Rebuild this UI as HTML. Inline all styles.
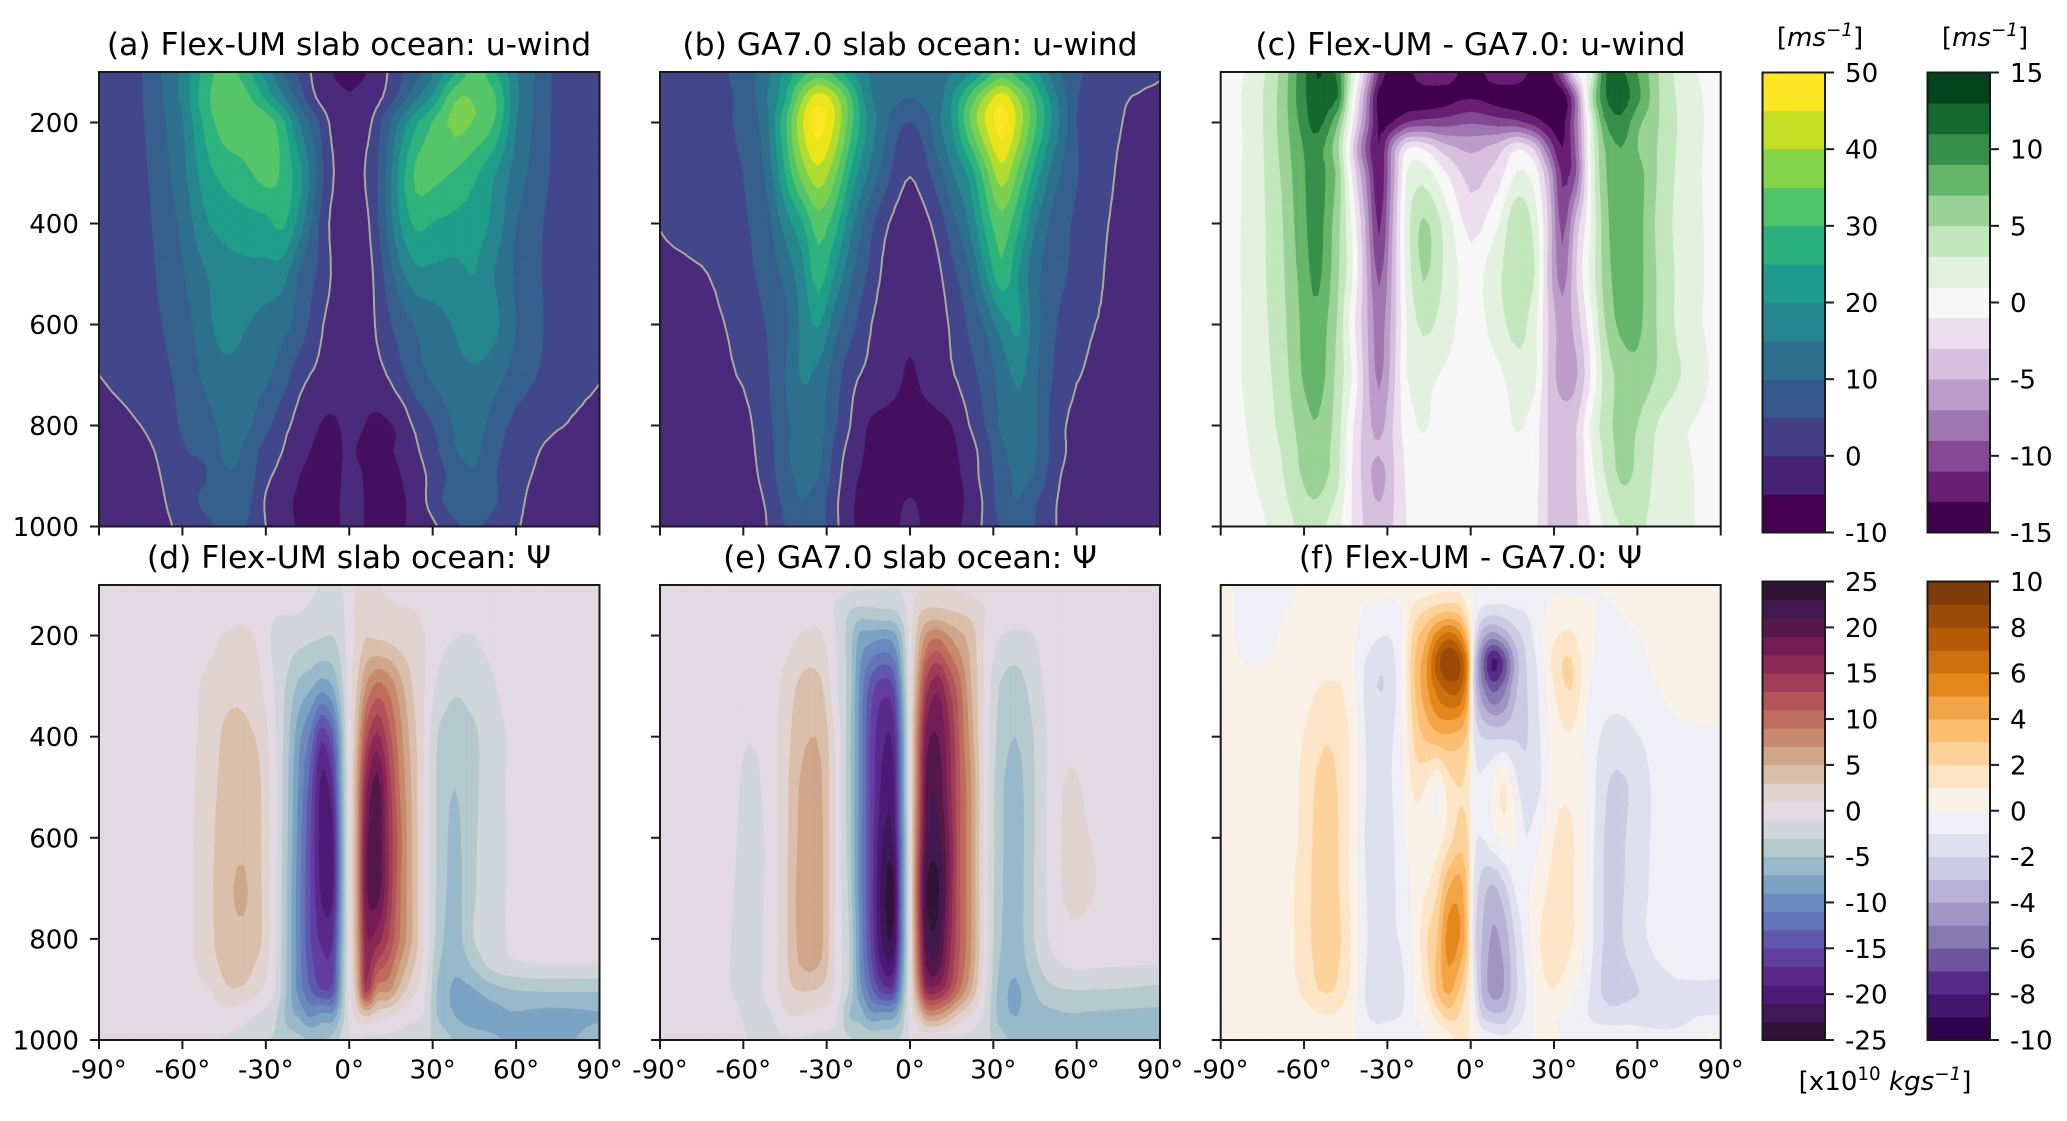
<!DOCTYPE html>
<html lang="en">
<head>
<meta charset="utf-8">
<title>Flex-UM and GA7.0 slab ocean zonal means</title>
<style>
html,body{margin:0;padding:0;background:#fff;}
svg{display:block;}
text{font-family:"DejaVu Sans","Liberation Sans",sans-serif;fill:#000;}
.t{font-size:31.4px;text-anchor:middle;}
.l{font-size:26.1px;}
</style>
</head>
<body>
<svg id="fig" xmlns="http://www.w3.org/2000/svg" width="2067" height="1121" viewBox="0 0 2067 1121">
<rect x="0" y="0" width="2067" height="1121" fill="#fff"/>
<g id="panels"></g>
<g id="bars"></g>
<text class="t" x="349" y="55">(a) Flex-UM slab ocean: u-wind</text>
<text class="t" x="910" y="55">(b) GA7.0 slab ocean: u-wind</text>
<text class="t" x="1470.5" y="55">(c) Flex-UM - GA7.0: u-wind</text>
<text class="t" x="349" y="568">(d) Flex-UM slab ocean: Ψ</text>
<text class="t" x="910" y="568">(e) GA7.0 slab ocean: Ψ</text>
<text class="t" x="1470.5" y="568">(f) Flex-UM - GA7.0: Ψ</text>
<text class="l" x="1820" y="46" text-anchor="middle">[<tspan font-style="italic">ms</tspan><tspan font-style="italic" font-size="18.3" dy="-10">−1</tspan><tspan dy="10">]</tspan></text>
<text class="l" x="1985" y="46" text-anchor="middle">[<tspan font-style="italic">ms</tspan><tspan font-style="italic" font-size="18.3" dy="-10">−1</tspan><tspan dy="10">]</tspan></text>
<text class="l" x="1885" y="1090" text-anchor="middle">[x10<tspan font-size="18.3" dy="-10">10</tspan><tspan dy="10"> </tspan><tspan font-style="italic">kgs</tspan><tspan font-style="italic" font-size="18.3" dy="-10">−1</tspan><tspan dy="10">]</tspan></text>
</svg>
<script>
// ---------- axes data ----------
const yTicks = [200,400,600,800,1000];
const xTicks = [-90,-60,-30,0,30,60,90];

// ---------- band levels and colours ----------
const windLevels = [-10,-5,0,5,10,15,20,25,30,35,40,45,50,55];
const windColors = ['#440f5f','#4a2b7b','#41478a','#355f8d','#2d708e','#26868e','#1f9e89','#2eb37c','#54c568','#7ad151','#b0dd2f','#ebe51a','#fde725'];
const windDiffLevels = [-15,-13,-11,-9,-7,-5,-3,-1,1,3,5,7,9,11,13,15];
const windDiffColors = ['#40004b','#671e73','#854894','#9f77b0','#bc9dca','#d7c0dd','#ecdeec','#f7f7f7','#e2f2df','#c3e7bd','#9bd397','#65b66a','#369049','#13692f','#00441b'];
const psiLevels = [-25,-23,-21,-19,-17,-15,-13,-11,-9,-7,-5,-3,-1,1,3,5,7,9,11,13,15,17,19,21,23,25];
const psiColors = ['#2f1436','#3f185a','#4d1a76','#5a2a8a','#623ea0','#5f58ad','#6374b9','#6a8abd','#7ba3c3','#98b9ca','#b4cacd','#d1d6da','#e2d9e2','#e1d3d0','#dabfab','#d0a68a','#c88a6c','#bf6b5d','#b25459','#a13d56','#8a2a55','#741e55','#561848','#401a4e','#2f1436'];
const psiDiffLevels = [-10,-9,-8,-7,-6,-5,-4,-3,-2,-1,0,1,2,3,4,5,6,7,8,9,10];
const psiDiffColors = ['#2d004b','#42156b','#562b8a','#6e539d','#8579b0','#a096c4','#b8b3d6','#cccbe3','#dfe0ee','#efeff5','#f9f1e6','#fde6c8','#fed39b','#fdbe70','#f2a446','#e4881d','#cd700e','#b55a07','#9b4a07','#7f3b08'];

// ---------- colourbars ----------
const barWindLevels = [-10,-5,0,5,10,15,20,25,30,35,40,45,50];
const barWindColors = ['#440154','#472374','#433d84','#38598c','#2d708e','#25858e','#1e9b8a','#2ab07f','#51c56a','#85d54a','#c2df23','#fde725'];
const barWindTicks = [-10,0,10,20,30,40,50];
const barWindDiffTicks = [-15,-10,-5,0,5,10,15];
const barPsiTicks = [-25,-20,-15,-10,-5,0,5,10,15,20,25];
const barPsiDiffTicks = [-10,-8,-6,-4,-2,0,2,4,6,8,10];

// ---------- panel (a) ----------
const latsA = [-90,-75,-60,-52,-45,-38,-30,-24,-18,-12,-8,-4,0,4,8,12,18,24,30,38,45,52,60,75,90];
const presA = [100,150,200,300,400,500,600,700,800,850,900,950,1000];
const uFlex = [
[2,4.5,16,26.5,32,28,18.5,10,4,-1.5,-4,-6,-7,-6,-4,-1.3,3.6,8,14.5,24.5,32,26,15.5,3.5,2],
[2,4.5,16,28,33,32,24,16,8,0,-2.5,-3.5,-4.5,-3.5,-2.5,0,6.5,14,21,34,34.5,31,16,3.5,2],
[2,4.3,14.5,26,32.5,33.5,33,26.5,15,7,0.8,-2.5,-3.5,-2.5,0,6,15.5,24,30.5,36.5,34.5,30,15,3.5,2],
[2,3.7,13,22.5,26.5,28.5,32,29,21.5,10.5,2.8,-1.2,-3,-1.2,2.5,8,21,31,31.5,29.5,26,20.5,12.5,3.5,2],
[1.5,3.3,11,19,22,23,23.5,26,18,7,0.8,-2.5,-3.5,-2.5,1,8,19.5,26,24.7,23.5,22.5,18.5,10,3,1.5],
[1.5,3,9.5,14.5,17.5,18.5,18.5,17,9.5,5,1.5,-2.5,-3.5,-2.5,-0.5,4.5,13,18.5,18.7,18.5,20,15,9,3,1.5],
[1,2.8,7.5,13,17,15.5,13,11.5,8,2.5,-1,-3,-3.5,-3,-1,2.7,7,10.5,12.5,15.5,19,16.5,10,3,1],
[0,2.5,6,11,13.5,13,11,7.5,2,-0.8,-2,-3,-3.5,-3,-2,-0.8,3.3,8,11,13,14,12,7.7,2.5,0.2],
[-1.5,0,5.5,8,11,11.5,6.5,2,-2,-4.5,-5.7,-5.2,-3.7,-4.5,-5.8,-5.8,-4,1.2,5,10.5,12,8,3.5,0.3,-1],
[-2,-1.8,4.5,6,10.7,9.5,3,0,-3.5,-5.5,-6,-5.5,-4.5,-5.5,-6,-5.7,-4.3,-0.7,3.2,9.7,11,6.5,2,-1.1,-1.5],
[-2.5,-2.5,3,4.5,9.3,8.6,1.3,-1.5,-5,-6.2,-6.2,-5.5,-4,-4.7,-6.5,-6.5,-5.3,-2,1.5,7,9.5,5.5,1.2,-1.5,-2],
[-3,-3,2.3,6,8.5,7.5,-0.5,-3.5,-5.7,-6.3,-6,-5.2,-4,-4.5,-6.3,-6.5,-5.8,-3.3,2.3,8,8.7,6,0.8,-2.2,-2.2],
[-3,-3,1,3.5,6,5.5,0,-3,-5.5,-6.5,-6,-5.3,-4,-4.6,-6,-6.2,-6,-3,-1,4,5.7,3,0.3,-2.5,-2.5]
];

// ---------- panel (b) ----------
const latsB = [-90,-75,-60,-52,-45,-39,-33,-27,-21,-15,-10,-5,0,5,10,15,21,27,33,39,45,52,60,75,90];
const presB = [100,150,200,300,400,500,600,700,800,850,900,950,1000];
const uGA = [
[2,3,6.7,13,21,27.5,32,28,20.5,15,13.5,13,12.8,13,13.5,14.8,18.5,25.5,32,27,21.5,12,5.7,2.5,0.3],
[2,3,6,14,24,38.5,47.5,42,30,16.5,13.5,11.5,10,11.5,12.5,19.5,30,40.5,47.5,39.5,29,16.5,5.3,0.7,-0.8],
[2,3,6,12.7,28.5,44,52,44.5,31,19,12.5,6.5,5,7,14,20,33.5,45,52,43,31,18,5,0.3,-2],
[2,2.8,5,10.5,25,37,43.5,36,23.5,14.5,8.7,3,0.3,3,8,14.5,21,32.5,43,34,23,12,5.3,-0.4,-2],
[0.2,2.8,4.5,7.5,17,24,32.5,27,16,7.5,1.8,-1.5,-3,-1.5,2,8,15,26,33,26,15.5,8,4,-1,-2],
[-1,-0.5,3.5,6.5,11.5,18,27.5,19.5,10.5,4.5,-0.5,-2.5,-3.5,-2.5,-1,3.5,9,19,28.5,20,11.5,7,3.5,-1.5,-2.5],
[-2,-1.5,1.5,5,8.5,16,20.5,12,6.5,0.8,-2,-3,-3.7,-3,-2,0.8,5.5,10.5,17.5,21,12,5.5,1.5,-1.5,-2.5],
[-2.5,-2,0.5,4,10,15.5,13.5,7.5,1.5,-1,-2.3,-3.8,-5.8,-3.8,-2,-0.5,3,7,12,16,11,4.5,0.3,-2,-2.7],
[-3,-2.5,-1.5,3,8.7,12.5,12,5.7,-0.5,-5.2,-6.2,-6.7,-7,-6.7,-6.2,-5,-0.3,5,11,13.5,11,2.5,-1.5,-2.5,-3],
[-3,-2.8,-1.5,2,9,12,11.5,3.5,-2.2,-5.7,-6.7,-7.5,-8,-7.5,-6.7,-6,-2.5,2.5,9,12,10.5,3,-2,-2.8,-3],
[-3.2,-3,-2,1.5,8,11,10.3,2.5,-3.7,-6,-7,-8,-8.5,-8,-7,-6.3,-3.5,2.3,7.5,11,9.5,1.5,-2.5,-3,-3],
[-3.2,-3,-2.5,0.3,6.5,10,7.5,1.2,-4.5,-6.5,-7,-6.5,-4.4,-6.5,-7,-6.5,-4.3,1,7.5,10,5.5,0.4,-2.5,-3,-3],
[-3.2,-3,-2.8,-0.3,5,7.5,7.5,1.3,-4.5,-6.5,-6.8,-5.8,-3,-5.8,-6.8,-6.5,-3.5,1,5.5,8,5,0.3,-2.5,-3,-3.2]
];

// ---------- panel (c) ----------
const latsC = [-90,-78,-68,-60,-55,-48,-43,-38,-33,-28,-23,-17,-10,0,10,17,23,28,33,38,43,48,54,60,68,78,90];
const presC = [100,150,200,250,300,400,500,600,700,800,850,900,1000];
const uDiff = [
[0,1.7,5.5,10.5,13.2,10.5,3,-3.5,-11.2,-14,-14,-11,-11.5,-14,-11.5,-11.5,-14,-14,-9,-1,1.5,10.5,11.3,9,4.8,1.5,0.5],
[0,1.95,5.7,10.5,12.3,11,1.6,-6,-14,-14.5,-14.5,-14.5,-14,-13.2,-14,-14.5,-14.5,-14.5,-14.5,-8,3.5,10.5,12,9.6,4.9,1.9,0.3],
[0,1.9,5.7,9.9,11.8,7.3,0,-7,-13.5,-13,-11,-10.2,-10,-9.2,-10,-10.5,-12,-13.5,-13.8,-8,1,8.5,10.5,7.5,4.9,2,0.3],
[0,1.8,5.5,9.1,9.8,5.5,-2,-9,-13,-6.5,-1.3,-1.3,-4,-5.5,-4,-1.2,-3.5,-9,-13,-8.5,0.8,6.8,9,7,4.7,1.9,0.3],
[0,1.9,5.2,8.8,9.8,6.5,-0.9,-7,-12.5,-6,1,2,-0.5,-3.8,-2,1.2,0,-5,-11.5,-9,0.6,6.5,8.5,7.8,4.6,1.8,0.3],
[0,1.9,4.8,8.5,9.8,5.7,1,-5,-11.5,-5,2,5.3,2.6,-1.8,0.9,4.8,2.1,-3.3,-9.8,-4.2,0.6,5.9,8.5,7.8,4.2,1.8,0.4],
[0,1.9,4.6,7.9,9.5,5.4,1.5,-4.3,-9.5,-4.5,1.7,5.2,2.9,0,2.7,4,3,-3.7,-8,-3.1,1.4,5.6,8.2,7.7,4.5,1.9,0.4],
[0,1.8,4.3,7.5,8.3,4.8,0.1,-4.2,-8,-4.2,1,3.5,2.1,0,2.1,3.8,1.6,-3,-6,-4.1,0,4.7,7.5,7.5,4.5,1.8,0.4],
[0,1.75,3.9,7.3,8,4.4,1.2,-3.8,-7.5,-3.8,1,1.5,0.8,0,0.6,2,1.5,-3.3,-6,-5.3,-1.3,3.5,5.6,6.3,4.6,2.5,0.4],
[0,1.4,3.5,6,6.8,4,-0.4,-3.8,-5.8,-3,0,1.2,0,0,0,1.2,0,-3.2,-4,-3.2,1,3.8,5.7,5,2.7,1.1,0.3],
[0,1.2,3.1,5.6,6.4,3.7,-0.7,-3.8,-4.8,-3.1,-0.4,0.5,0,0,0,0.5,-0.1,-3.2,-4,-3.1,0.6,3.3,5.5,4.7,2.4,1.1,0.3],
[0,1,2.8,5.3,6,3.5,-0.9,-3.8,-6,-3.3,-0.7,0,0,0,0,0,-0.3,-3.2,-4,-3,0.2,2.8,5.3,4.5,2.2,1.2,0.3],
[0,0.3,2,3.5,3.6,1.5,-1,-3.3,-4,-3,-1,0.5,0,0,0,0.5,-0.5,-3.2,-4,-3.2,-1,1.3,3,3.4,2,1.3,0]
];

// ---------- panel (d) ----------
const latsD = [-90,-60,-50,-44,-38,-32,-27,-22,-18,-14,-10,-6,-3,0,3,6,10,14,18,22,27,32,38,44,50,58,70,80,90];
const presD = [100,150,200,300,400,500,600,700,800,850,900,950,1000];
const psiFlex = [
[0,0,0,0.3,0.3,0,-0.2,-0.1,-0.3,-0.6,-1.1,-1.5,-1.2,0,1.2,1.5,1.2,0.5,0.2,0,0,0,0,0,0,0,0,0,0],
[0,0,0,0.3,0.6,0.3,-0.7,-0.8,-0.9,-1.3,-2,-2.2,-1.5,0,1.5,1.8,1.8,1.5,1.2,1.1,0.6,0,-0.2,0,0,0,0,0,0],
[0,0.1,0.5,1.2,1.3,0.6,-1.5,-1.9,-2.2,-2.5,-2.8,-3,-2,0,1.5,2.8,2.5,2.3,1.9,1.9,1,-0.3,-0.9,-1.1,-0.5,0,0,0,0],
[0,0.2,1.5,2.3,2.4,1.2,-1,-3.5,-5.5,-6.5,-8,-7,-4,0,3.2,7,9.5,8.5,6,3.3,1,-1.5,-2.7,-2.2,-1.5,-0.2,0,0,0],
[0,0.2,1.8,3.5,3.5,2.5,-0.5,-4.5,-8.5,-11.5,-16.5,-13.5,-7,0,5,12,15.5,12,8,4.5,0.8,-3.2,-4,-3.5,-2.2,-0.8,0,0,0],
[0,0.2,2.2,3.9,4.2,3.1,-0.2,-5,-9.5,-14,-19.7,-17.5,-8,0,6.5,16,20,14.5,9,5.2,0.7,-3.5,-5,-3.6,-2.2,-0.7,0,0,0],
[0,0.2,2.5,4,4.5,3.2,-0.2,-5.2,-10,-15,-20,-19.5,-9,0,7,18,20.5,15,10,5.5,0.7,-3.5,-5.5,-3.5,-2.2,-0.8,0,0,0],
[0,0.2,2.6,4.5,5.3,3.3,-0.3,-5.5,-10.5,-15,-19.5,-19.5,-9,0,7,18.5,20.2,15,9.5,5.5,0.7,-3.6,-5.7,-3.5,-2,-0.8,0,0,0],
[0,0.2,2.5,4.2,4.6,3.3,-0.3,-5.5,-10.5,-15,-17.5,-17.2,-8,0,6.5,16.5,16,13,9,5.5,0.7,-4,-6,-3.2,-2,-0.8,-0.05,-0.1,-0.2],
[0,0.1,2.2,3.6,3.8,2.4,-0.5,-5.6,-10.3,-14.2,-16.3,-16,-7.5,0,5.8,15.5,12.5,10.5,7,4,0.2,-4.7,-6.6,-4.8,-2.6,-1.3,-1,-1,-1],
[0,0,1,2.8,2.7,1.2,-0.7,-5.8,-10,-13,-15,-14.5,-7,0,5,14,8,7.5,4.5,2,-0.5,-5.5,-7.3,-7.2,-6,-5,-4.7,-4.7,-4.7],
[0,0,0,0.2,-0.2,-1.3,-2.4,-6,-7.5,-9.5,-8.5,-8.5,-5,-0.5,2,3.5,2,1.5,0.5,-0.3,-1.2,-5.4,-7.1,-8,-8,-7.2,-7.6,-7.5,-7.2],
[0,0,-0.8,-1.2,-1.7,-2.5,-3.2,-4,-4.5,-5,-5,-4.5,-2.5,-1.2,-0.8,-1.5,-1.5,-1.5,-1.7,-2,-2.8,-3.5,-5.2,-6,-6.5,-7.3,-7.8,-7.2,-5.8]
];

// ---------- panel (e) ----------
const latsE = [-90,-65,-58,-50,-44,-38,-32,-27,-22,-18,-14,-10,-6,-3,0,3,6,10,14,18,22,27,32,38,44,50,58,66,75,90];
const presE = [100,150,200,300,400,500,600,700,800,850,900,950,1000];
const psiGA = [
[0,0,0,0,0,0,0,-0.2,-0.4,-0.6,-0.7,-0.8,-0.9,-0.7,0,0.5,1.3,1.2,0.8,0.6,0.4,0,0,0,0,0,0,0,0,0],
[0,0,0,0,0,0.3,0.4,-1.2,-2.9,-3.5,-3.5,-3.2,-3.1,-2.2,0,2.5,3.2,3.3,3,2.7,2.2,1,0,0,0,0,0,0,0,0],
[0,0,0,0,0.3,1.3,1.2,-0.8,-3.8,-7.5,-8,-8.5,-8,-5,0,4,7.5,8.5,7,5.5,4,0.7,-0.9,-1.5,-1.1,-0.1,0,0,0,0],
[0,0,0,0,2,3.7,3.3,-0.5,-3.8,-9.5,-14,-16,-15,-8,0,7,14,16.5,13,9.5,5,0.5,-3,-4,-2.3,-0.5,0,0,0,0],
[0,0,-0.9,0,2.5,4.7,4.6,0.8,-4.2,-9.8,-15.5,-18.5,-18.5,-10,0,9.5,18,19,15.5,10.5,6,0.3,-3.6,-5,-3.2,-0.8,0.2,0,0,0],
[0,0,-1.7,0,2.8,5.7,5.2,1,-4.2,-9.8,-15.5,-19.5,-19.7,-10,0,10,19.7,20.5,16,11,7,0.2,-4.2,-6,-3.4,-0.7,1.5,0,0,0],
[0,-0.4,-1.8,-0.3,2.9,6,5.4,1,-4,-10,-15.7,-20.8,-21,-11,0,11,20.5,21.5,17,11,7,0.1,-4.2,-6.2,-3.4,-0.6,1.8,0.8,0,0],
[0,-0.7,-1.8,-0.3,3,6.5,5.5,1,-3.5,-10,-15.7,-22,-23.5,-11,0,12,23,23.5,17,11,7,0.1,-4.3,-6.2,-3.3,-0.7,1.8,1.1,0,0],
[0,-0.9,-1.8,-0.2,3,6.3,5.5,0.8,-3,-9.5,-15.5,-21.5,-22.5,-11,0,11,21.5,22,16,11,7,0.2,-4.5,-6.2,-3.3,-0.9,0.4,0.1,0,-0.1],
[0,-0.95,-1.8,-0.2,2.9,5.5,4.8,0.8,-3,-9.2,-14.5,-19.5,-20,-10,0,10,19.5,20,15,10.5,6.5,0.1,-5,-6.5,-4,-1.8,-0.6,-0.7,-0.8,-1],
[0,-0.95,-1.7,-0.2,2.5,3.2,2.7,0.6,-3.2,-8.5,-12.5,-16,-16,-8,0,8,16,16,13,9,5,-0.5,-5.6,-7.4,-5.3,-3.5,-3,-3,-3.1,-3.5],
[0,-0.3,-1.4,-1.1,1,0.9,0.3,-0.4,-5,-6,-8.5,-8.3,-8,-5,0,3,7,7,5,2.5,0.9,-1.5,-5.7,-7.1,-5.7,-5.5,-5.1,-5.3,-5.4,-5.6],
[0,0,-1.1,-1.5,-1.2,-1.3,-1.5,-1.8,-2.7,-3.2,-3.5,-3.5,-3.4,-2.5,-0.8,-0.8,-0.8,-1,-1.2,-1.5,-1.7,-2.5,-4,-5.5,-5.8,-5.9,-6,-6,-6.2,-7]
];

// ---------- panel (f) ----------
const latsF = [-90,-78,-62,-52,-44,-36,-30,-25,-20,-16,-12,-8,-4,-1,1,4,8,12,16,20,25,30,36,42,50,58,70,80,90];
const presF = [100,150,200,250,300,400,500,600,700,800,900,950,1000];
const psiDiff = [
[0.3,-0.5,0,0.3,0.3,0.3,0.3,0.3,0.3,0.4,0.5,0.6,0.5,0.3,-0.1,-0.1,0.2,-0.1,-0.1,-0.1,-0.1,-0.1,-0.1,-0.1,0.1,0.3,0.4,0.4,0.4],
[0.3,-0.5,0.2,0.3,0.3,-0.2,-0.3,0,1.4,2,2.5,2.8,2.5,1,-0.2,-1.2,-1.5,-1.4,-1.1,-0.9,-0.2,0.2,0.3,0.1,-0.1,0.2,0.4,0.4,0.4],
[0.3,-0.4,0.4,0.4,0.3,-0.6,-1,-0.2,2.5,3.7,5.5,6.5,5.5,3,-0.8,-3.5,-4.5,-3.7,-2.5,-1.6,-0.3,0.8,1.2,0.2,-0.2,-0.1,0.3,0.4,0.4],
[0.3,-0.1,0.45,0.7,0.4,-1.4,-1.7,-0.1,3,4.7,7.5,9,8,5,-1.8,-5.5,-8.3,-6.8,-3.7,-2,-0.6,1.4,2.1,0.2,-0.3,-0.2,0.2,0.4,0.4],
[0.3,0.3,0.5,1.1,0.7,-1.7,-1.9,-0.2,3,4.8,6.5,7.5,7.3,4.5,-2,-4.8,-6.5,-5.5,-3.3,-2.1,-0.8,1,2.1,0.1,-0.5,-0.4,0.1,0.3,0.4],
[0.3,0.3,0.8,1.9,1,-1.5,-1.3,-0.3,2.3,3.2,3.7,3.8,3.5,2.5,-1,-2,-2.2,-2.2,-2.1,-2.1,-1,0.4,0.9,-0.3,-1.4,-1.2,-0.3,-0.1,-0.1],
[0.3,0.3,0.95,2.5,1,-1.4,-1.2,-0.4,1.3,0.9,-0.1,1.5,2,1.5,-0.5,-0.8,0,1.2,-0.6,-1.6,-1.1,0.6,0.8,-0.3,-2.1,-1.9,-0.4,-0.4,-0.4],
[0.3,0.3,1,2.7,1,-1.6,-1.6,-0.3,0.4,0.2,0.5,1.5,2.5,2,-0.6,-1,-0.3,0.2,0.1,-1,-0.1,1,1.2,-0.3,-2.4,-1.7,-0.5,-0.4,-0.4],
[0.3,0.3,1.1,2.8,1,-1.4,-1.3,-0.7,0.3,0.9,1.9,4,4.5,2.5,-1,-2.5,-3.2,-2.3,-0.9,-0.2,0.6,1.3,1.2,-0.4,-2.4,-1.6,-0.5,-0.4,-0.4],
[0.3,0.3,1.1,2.8,1.3,-1.3,-1.1,-0.9,0.3,1.9,3,5.5,5,2.8,-1.5,-3,-4.2,-3.6,-2,-0.5,1,1.6,1.2,-0.4,-2.4,-1.5,-0.5,-0.5,-0.5],
[0.3,0.2,1,2.2,1,-1.6,-1.7,-1.3,0.1,1.3,3.2,4.3,3,1.5,-0.8,-3.2,-4.5,-4,-2.3,-1,0.6,1,0.3,-0.8,-2.6,-2.2,-1.3,-1.1,-1.1],
[0.3,0.2,0.5,1,0.5,-1.2,-1.2,-1,0,0.3,1.5,2.5,2,1.2,-0.2,-2.2,-2.8,-2.8,-1.6,-0.8,0.3,0.1,-0.2,-1,-1.6,-1.4,-1.6,-1.1,-1],
[0.3,0.2,0.3,0.3,0.2,-0.4,-0.5,-0.3,-0.3,0,0.2,0.4,1.3,1,0.5,-0.2,-0.5,-0.7,-0.5,-0.2,0.1,0.1,-0.2,-0.5,-0.3,-0.5,-0.6,-0.4,0.6]
];

// ---------- drawing ----------
const NS = 'http://www.w3.org/2000/svg';
const REFINE = 3;

function make(parent, tag, props) {
  const el = document.createElementNS(NS, tag);
  for (const k in props) el.setAttribute(k, props[k]);
  parent.appendChild(el);
  return el;
}
function spline(a, b, c, d, t) {
  return 0.5 * (2 * b + (c - a) * t + (2 * a - 5 * b + 4 * c - d) * t * t + (3 * b - a - 3 * c + d) * t * t * t);
}
function refine1(arr, k) {
  const out = [];
  const n = arr.length;
  for (let i = 0; i < n - 1; i++) {
    const a = arr[Math.max(i - 1, 0)], b = arr[i], c = arr[i + 1], d = arr[Math.min(i + 2, n - 1)];
    for (let s = 0; s < k; s++) out.push(spline(a, b, c, d, s / k));
  }
  out.push(arr[n - 1]);
  return out;
}
function lerp1(arr, k) {
  const out = [];
  for (let i = 0; i < arr.length - 1; i++) {
    for (let s = 0; s < k; s++) out.push(arr[i] + (arr[i + 1] - arr[i]) * s / k);
  }
  out.push(arr[arr.length - 1]);
  return out;
}
function refineGrid(values, k) {
  const rows = values.map(function (r) { return refine1(r, k); });
  const nc = rows[0].length;
  const cols = [];
  for (let j = 0; j < nc; j++) cols.push(refine1(rows.map(function (r) { return r[j]; }), k));
  return cols; // cols[j][i]
}
function clipAbove(tri, level) {
  const out = [];
  for (let i = 0; i < 3; i++) {
    const p = tri[i], q = tri[(i + 1) % 3];
    const pin = p[2] >= level, qin = q[2] >= level;
    if (pin) out.push(p);
    if (pin !== qin) {
      const t = (level - p[2]) / (q[2] - p[2]);
      out.push([p[0] + (q[0] - p[0]) * t, p[1] + (q[1] - p[1]) * t, level]);
    }
  }
  return out;
}
function eachTriangle(xs, ys, field, fn) {
  for (let j = 0; j < xs.length - 1; j++) {
    for (let i = 0; i < ys.length - 1; i++) {
      const a = [xs[j], ys[i], field[j][i]];
      const b = [xs[j + 1], ys[i], field[j + 1][i]];
      const c = [xs[j + 1], ys[i + 1], field[j + 1][i + 1]];
      const d = [xs[j], ys[i + 1], field[j][i + 1]];
      fn([a, b, c]);
      fn([a, c, d]);
    }
  }
}

function drawPanel(cfg) {
  const g = make(document.getElementById('panels'), 'g', {});
  
  
  const xScale = function (lat) { return cfg.x0 + (lat + 90) / 180 * (cfg.x1 - cfg.x0); };
  const yScale = function (p) { return cfg.y0 + (p - 100) / 900 * (cfg.y1 - cfg.y0); };

  const xs = lerp1(cfg.lats.map(xScale), REFINE);
  const ys = lerp1(cfg.pres.map(yScale), REFINE);
  const field = refineGrid(cfg.values, REFINE);

  const base = make(g, 'rect', { x: cfg.x0, y: cfg.y0, width: cfg.x1 - cfg.x0, height: cfg.y1 - cfg.y0, fill: cfg.colors[0] });
  
  

  for (let b = 1; b < cfg.colors.length; b++) {
    const level = cfg.levels[b];
    const next = b + 1 < cfg.colors.length ? cfg.levels[b + 1] : Infinity;
    const parts = [];
    eachTriangle(xs, ys, field, function (tri) {
      const lo = Math.min(tri[0][2], tri[1][2], tri[2][2]);
      const hi = Math.max(tri[0][2], tri[1][2], tri[2][2]);
      if (hi < level || lo >= next) return;
      const poly = lo >= level ? tri : clipAbove(tri, level);
      if (poly.length < 3) return;
      let d = 'M' + poly[0][0].toFixed(1) + ' ' + poly[0][1].toFixed(1);
      for (let i = 1; i < poly.length; i++) d += 'L' + poly[i][0].toFixed(1) + ' ' + poly[i][1].toFixed(1);
      parts.push(d + 'Z');
    });
    if (!parts.length) continue;
    const band = make(g, 'path', { d: parts.join(''), fill: cfg.colors[b], stroke: cfg.colors[b], 'stroke-width': 0.3 });
    
    
  }

  if (cfg.zeroLine) {
    const segs = [];
    eachTriangle(xs, ys, field, function (tri) {
      const pts = [];
      for (let i = 0; i < 3; i++) {
        const p = tri[i], q = tri[(i + 1) % 3];
        if ((p[2] >= 0) !== (q[2] >= 0)) {
          const t = -p[2] / (q[2] - p[2]);
          pts.push([p[0] + (q[0] - p[0]) * t, p[1] + (q[1] - p[1]) * t]);
        }
      }
      if (pts.length === 2) segs.push('M' + pts[0][0].toFixed(1) + ' ' + pts[0][1].toFixed(1) + 'L' + pts[1][0].toFixed(1) + ' ' + pts[1][1].toFixed(1));
    });
    const zero = make(g, 'path', { d: segs.join(''), fill: 'none', stroke: '#aaa89c', 'stroke-width': 2, 'stroke-linecap': 'round' });
    
    
  }

  const frame = make(g, 'rect', { x: cfg.x0, y: cfg.y0, width: cfg.x1 - cfg.x0, height: cfg.y1 - cfg.y0, fill: 'none', stroke: '#1a1a1a', 'stroke-width': 2 });
  
  

  yTicks.forEach(function (v) {
    const y = yScale(v);
    const tick = make(g, 'line', { x1: cfg.x0 - 9, x2: cfg.x0, y1: y, y2: y, stroke: '#1a1a1a', 'stroke-width': 2 });
    
    
    if (cfg.yLabels) {
      const t = make(g, 'text', { x: cfg.x0 - 20, y: y + 9.5, 'text-anchor': 'end', class: 'l' });
      
      
      t.textContent = v;
    }
  });
  xTicks.forEach(function (v) {
    const x = xScale(v);
    const tick = make(g, 'line', { x1: x, x2: x, y1: cfg.y1, y2: cfg.y1 + 9, stroke: '#1a1a1a', 'stroke-width': 2 });
    
    
    if (cfg.xLabels) {
      const t = make(g, 'text', { x: x, y: cfg.y1 + 38.7, 'text-anchor': 'middle', class: 'l' });
      
      
      t.textContent = v + '°';
    }
  });
}

function drawBar(cfg) {
  const g = make(document.getElementById('bars'), 'g', {});
  
  
  const lo = cfg.levels[0], hi = cfg.levels[cfg.levels.length - 1];
  const vScale = function (v) { return cfg.y1 - (v - lo) / (hi - lo) * (cfg.y1 - cfg.y0); };
  cfg.colors.forEach(function (c, i) {
    const top = vScale(cfg.levels[i + 1]), bottom = vScale(cfg.levels[i]);
    const r = make(g, 'rect', { x: cfg.x0, y: top, width: cfg.x1 - cfg.x0, height: bottom - top + 0.4, fill: c });
    
    
  });
  const frame = make(g, 'rect', { x: cfg.x0, y: cfg.y0, width: cfg.x1 - cfg.x0, height: cfg.y1 - cfg.y0, fill: 'none', stroke: '#1a1a1a', 'stroke-width': 2 });
  
  
  cfg.ticks.forEach(function (v) {
    const y = vScale(v);
    const tick = make(g, 'line', { x1: cfg.x1, x2: cfg.x1 + 9, y1: y, y2: y, stroke: '#1a1a1a', 'stroke-width': 2 });
    
    
    const t = make(g, 'text', { x: cfg.x1 + 20, y: y + 9.5, class: 'l' });
    
    
    t.textContent = v;
  });
}

const R1 = { y0: 72, y1: 526.5 };
const R2 = { y0: 585, y1: 1040 };
const CA = { x0: 99, x1: 599.5 };
const CB = { x0: 660, x1: 1160 };
const CC = { x0: 1220.7, x1: 1720.7 };

drawPanel({ name: 'panel-a-flex-um-u-wind', x0: CA.x0, x1: CA.x1, y0: R1.y0, y1: R1.y1, lats: latsA, pres: presA, values: uFlex, levels: windLevels, colors: windColors, zeroLine: true, yLabels: true, xLabels: false });
drawPanel({ name: 'panel-b-ga7-u-wind', x0: CB.x0, x1: CB.x1, y0: R1.y0, y1: R1.y1, lats: latsB, pres: presB, values: uGA, levels: windLevels, colors: windColors, zeroLine: true, yLabels: false, xLabels: false });
drawPanel({ name: 'panel-c-u-wind-difference', x0: CC.x0, x1: CC.x1, y0: R1.y0, y1: R1.y1, lats: latsC, pres: presC, values: uDiff, levels: windDiffLevels, colors: windDiffColors, zeroLine: false, yLabels: false, xLabels: false });
drawPanel({ name: 'panel-d-flex-um-streamfunction', x0: CA.x0, x1: CA.x1, y0: R2.y0, y1: R2.y1, lats: latsD, pres: presD, values: psiFlex, levels: psiLevels, colors: psiColors, zeroLine: false, yLabels: true, xLabels: true });
drawPanel({ name: 'panel-e-ga7-streamfunction', x0: CB.x0, x1: CB.x1, y0: R2.y0, y1: R2.y1, lats: latsE, pres: presE, values: psiGA, levels: psiLevels, colors: psiColors, zeroLine: false, yLabels: false, xLabels: true });
drawPanel({ name: 'panel-f-streamfunction-difference', x0: CC.x0, x1: CC.x1, y0: R2.y0, y1: R2.y1, lats: latsF, pres: presF, values: psiDiff, levels: psiDiffLevels, colors: psiDiffColors, zeroLine: false, yLabels: false, xLabels: true });

drawBar({ name: 'colorbar-wind', x0: 1762.5, x1: 1825, y0: 72.5, y1: 532.5, levels: barWindLevels, colors: barWindColors, ticks: barWindTicks });
drawBar({ name: 'colorbar-wind-difference', x0: 1927.5, x1: 1990, y0: 72.5, y1: 532.5, levels: windDiffLevels, colors: windDiffColors, ticks: barWindDiffTicks });
drawBar({ name: 'colorbar-streamfunction', x0: 1762.5, x1: 1825, y0: 581.5, y1: 1040, levels: psiLevels, colors: psiColors, ticks: barPsiTicks });
drawBar({ name: 'colorbar-streamfunction-difference', x0: 1927.5, x1: 1990, y0: 581.5, y1: 1040, levels: psiDiffLevels, colors: psiDiffColors, ticks: barPsiDiffTicks });
</script>
</body>
</html>
